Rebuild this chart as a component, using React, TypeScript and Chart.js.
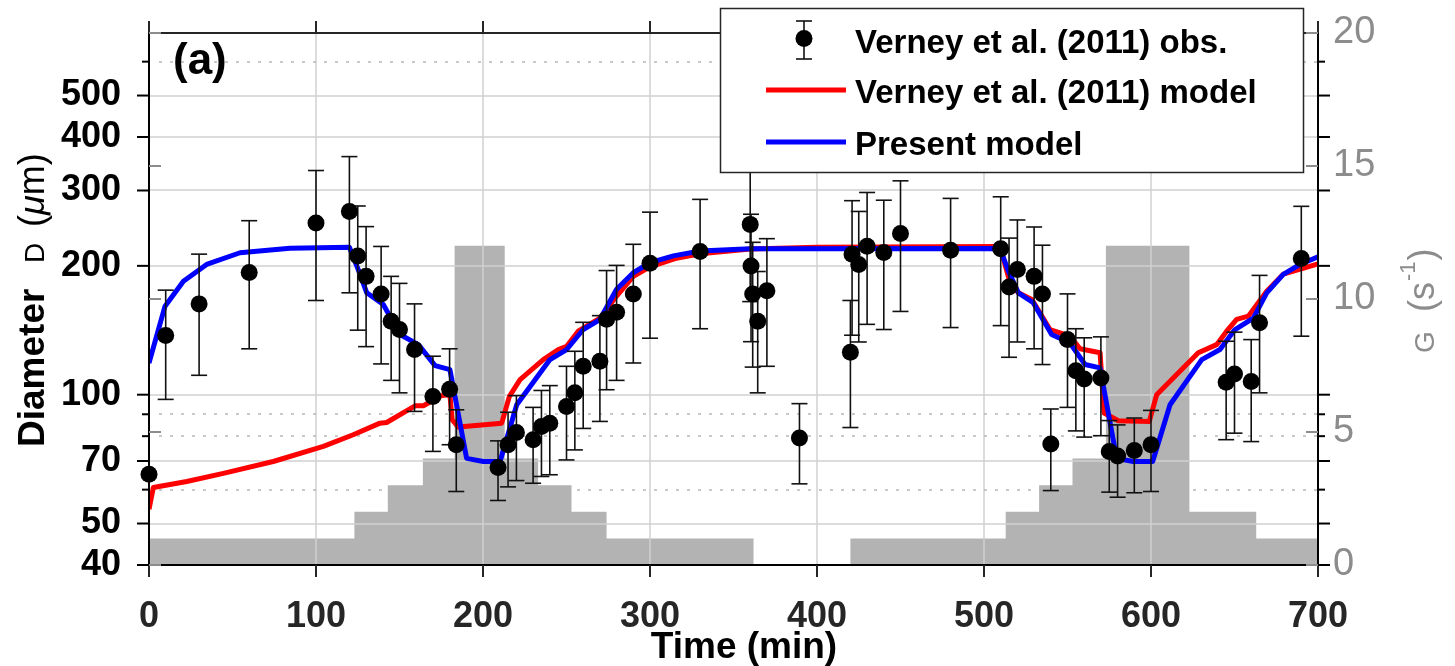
import React, { useEffect, useRef } from 'react';
import { Chart, registerables } from 'chart.js';

Chart.register(...registerables);

const FONT = "'Liberation Sans', Arial, Helvetica, sans-serif";

// ---- Observations (Verney et al. 2011) ----
const obsTime = [0, 10, 30, 60, 100, 120, 125, 130, 139, 145, 150, 159, 170, 180, 184, 209, 215, 220, 230, 235, 240, 250, 255, 260, 270, 274, 280, 290, 300, 330, 360, 360.5, 361.5, 364.5, 370, 389.5, 420, 421, 425, 430, 440, 450, 480, 510, 515, 520, 530, 535, 540, 550, 555, 560, 570, 575, 580, 590, 600, 645, 650, 660, 665, 690];
const obsDiameter = [65.2, 137.5, 163, 193, 252, 268, 211, 189, 172, 148.5, 142, 127.5, 99, 103, 76.4, 67.6, 76.4, 81.6, 78.5, 84.3, 85.8, 93.9, 101, 116.5, 119.7, 150, 155.8, 172, 202.8, 216, 250, 199.8, 172, 148.5, 175, 79.2, 125.6, 212.8, 201.5, 222.3, 214.8, 238, 217.4, 219.2, 178.4, 196, 189, 172, 76.7, 134.5, 113.8, 108.8, 109.4, 73.7, 71.9, 74.1, 76.4, 106.9, 111.8, 107.4, 147.2, 208];
const obsUpper = [null, 175.5, 213, 255, 334, 360, 276, 247, 222, 189, 182, 163, 123, 128, 92.2, 78, 91, 99.5, 93.4, 102.3, 105, 116.5, 126.3, 147.6, 153, 195, 200.5, 224.6, 267, 286, 337, 264, 227, 194, 231.5, 95.3, 166, 284, 268, 296.8, 284.7, 316, 287.5, 290, 232.2, 256, 246.5, 223.5, 92.6, 172, 142.6, 135.8, 136.5, 87, 85, 88.2, 91.9, 133.3, 140, 134.5, 190, 275.5];
const obsLower = [null, 97.5, 111, 128, 166, 173, 141.5, 129.5, 118, 108, 101, 91.4, 73.7, 76.4, 59.4, 56.6, 60.9, 63, 62.1, 64.4, 65, 70.4, 74.3, 83.4, 86.6, 102.7, 108, 118.6, 135.5, 142.6, 165, 133, 116, 101, 116.5, 61.9, 83.8, 137.7, 132.8, 146, 142, 156.5, 143.5, 145, 122.3, 132.8, 128, 117.6, 59.7, 93.4, 82.3, 79.6, 80.2, 59.2, 57.6, 59, 59.4, 78.5, 81.3, 77.7, 101, 137];

// ---- Verney et al. (2011) model ----
const verneyTime = [0, 2.6, 22.6, 44.5, 74.4, 104.4, 122.3, 138.3, 142.3, 159.3, 164.3, 175.2, 180.2, 181.5, 185.2, 211.2, 215.8, 222.2, 236.1, 245.1, 250.1, 257, 270, 280, 290, 300, 315, 330, 360, 400, 509.6, 515.6, 520.6, 528.6, 539.5, 551.5, 557.5, 569.5, 571.9, 580.4, 599, 603.4, 628.3, 639.3, 645.3, 651.3, 658.3, 669.3, 679.2, 700];
const verneyDiameter = [54, 60.7, 62.7, 65.5, 69.8, 75.7, 80.6, 85.8, 86.1, 94.2, 94.2, 99.5, 100, 87.4, 84, 85.8, 99.1, 108.4, 120.8, 127.5, 129.8, 140.7, 151, 170, 189, 199, 208, 213.5, 219, 221, 222, 182.5, 173, 167, 142, 137, 128, 125.3, 90.6, 86.9, 86.6, 100, 125.3, 130.9, 140.7, 150, 152.6, 174.5, 191.3, 202];

// ---- Present model ----
const presentTime = [0, 9.6, 20.6, 34.5, 54.5, 84.4, 120, 125.3, 130.4, 140.3, 150.3, 161.3, 171.3, 180.2, 190.2, 200.2, 210.2, 220.2, 240.1, 250.1, 260, 270, 280, 290, 300, 314, 330, 360, 509.6, 514.6, 520.6, 529.5, 540.5, 551.5, 560.5, 569.5, 579.4, 589.4, 601, 611.4, 630.4, 641.3, 650.3, 661.3, 669.3, 679.2, 689.2, 700];
const presentDiameter = [118.6, 161, 184, 201.5, 214.6, 220, 221, 196, 173, 162.4, 138.2, 130.9, 116.9, 114.4, 71, 69.8, 69.8, 94.7, 120.8, 127.5, 142, 149.8, 176.3, 192.7, 203.4, 211, 216.7, 219.2, 219.6, 194.5, 173, 164, 138.2, 132, 117.6, 115.5, 71, 69.8, 69.8, 94.7, 120.8, 127.5, 142, 151, 173, 191, 201.5, 210];

// ---- Shear rate G (step function, value holds until next time) ----
const shearTime = [0, 123, 143, 164, 183, 213, 233, 253, 274, 362, 420, 513, 533, 553, 573, 623, 663, 700];
const shearG = [1, 2, 3, 4, 12, 4, 3, 2, 1, 0, 1, 2, 3, 4, 12, 2, 1, 1];

// ---- Ticks ----
const timeTicks = [0, 100, 200, 300, 400, 500, 600, 700];
const diameterTicks = [40, 50, 70, 100, 200, 300, 400, 500];
const diameterMinorTicks = [60, 80, 90, 600];
const shearTicks = [0, 5, 10, 15, 20];

const LABEL_OBS = 'Verney et al. (2011) obs.';
const LABEL_VERNEY = 'Verney et al. (2011) model';
const LABEL_PRESENT = 'Present model';

function seg(ctx: CanvasRenderingContext2D, x1: number, y1: number, x2: number, y2: number) {
  ctx.beginPath();
  ctx.moveTo(x1, y1);
  ctx.lineTo(x2, y2);
  ctx.stroke();
}

function zeroPad(s: any) {
  s.paddingTop = 0;
  s.paddingBottom = 0;
  s.paddingLeft = 0;
  s.paddingRight = 0;
}

function drawGrid(chart: any) {
  const { ctx, chartArea, scales } = chart;
  const { left, right, top, bottom } = chartArea;
  ctx.save();
  ctx.beginPath();
  ctx.rect(left, top, right - left, bottom - top);
  ctx.clip();
  ctx.strokeStyle = 'rgba(208,208,208,0.75)';
  ctx.lineWidth = 2;
  for (const t of timeTicks) {
    if (t === 0 || t === 700) continue;
    const px = Math.round(scales.x.getPixelForValue(t));
    seg(ctx, px, top, px, bottom);
  }
  for (const v of diameterTicks) {
    if (v === 40) continue;
    const py = Math.round(scales.y.getPixelForValue(v));
    seg(ctx, left, py, right, py);
  }
  ctx.setLineDash([3, 8]);
  ctx.strokeStyle = 'rgba(175,175,175,0.9)';
  ctx.lineWidth = 1.5;
  for (const v of diameterMinorTicks) {
    const py = Math.round(scales.y.getPixelForValue(v));
    seg(ctx, left + 10, py, right, py);
  }
  ctx.restore();
}

function drawErrorBars(chart: any) {
  const { ctx, scales } = chart;
  ctx.save();
  ctx.strokeStyle = '#111';
  ctx.lineWidth = 1.6;
  for (let i = 0; i < obsTime.length; i++) {
    const up = obsUpper[i];
    const lo = obsLower[i];
    if (up == null || lo == null) continue;
    const px = scales.x.getPixelForValue(obsTime[i]);
    const pu = scales.y.getPixelForValue(up);
    const pl = scales.y.getPixelForValue(lo);
    seg(ctx, px, pu, px, pl);
    seg(ctx, px - 8, pu, px + 8, pu);
    seg(ctx, px - 8, pl, px + 8, pl);
  }
  ctx.restore();
}

function drawFrame(chart: any) {
  const { ctx, chartArea, scales } = chart;
  const { left, right, top, bottom } = chartArea;
  ctx.save();
  ctx.lineWidth = 2;
  ctx.strokeStyle = '#262626';
  seg(ctx, left, top, right, top);
  ctx.strokeStyle = '#000';
  seg(ctx, left, top - 1, left, bottom + 1);
  seg(ctx, left - 1, bottom, right + 1, bottom);
  seg(ctx, right, top - 1, right, bottom + 1);
  ctx.strokeStyle = '#262626';
  for (const t of timeTicks) {
    const px = scales.x.getPixelForValue(t);
    seg(ctx, px, bottom, px, bottom + 12);
    seg(ctx, px, top, px, top - 12);
  }
  ctx.strokeStyle = '#000';
  for (const v of diameterTicks) {
    const py = scales.y.getPixelForValue(v);
    seg(ctx, left - 12, py, left, py);
    seg(ctx, right, py, right + 12, py);
  }
  for (const v of diameterMinorTicks) {
    const py = scales.y.getPixelForValue(v);
    seg(ctx, left - 7, py, left, py);
    seg(ctx, right, py, right + 7, py);
  }
  ctx.strokeStyle = '#8c8c8c';
  for (const g of shearTicks) {
    const py = scales.y2.getPixelForValue(g);
    seg(ctx, left, py, left + 12, py);
    seg(ctx, right - 12, py, right, py);
  }
  ctx.restore();
}

function drawTitles(chart: any) {
  const ctx: CanvasRenderingContext2D = chart.ctx;
  // Left title: "Diameter D (μm)"
  ctx.save();
  ctx.translate(44, 447);
  ctx.rotate(-Math.PI / 2);
  ctx.textAlign = 'left';
  ctx.textBaseline = 'alphabetic';
  ctx.fillStyle = '#000';
  ctx.font = `bold 37px ${FONT}`;
  ctx.fillText('Diameter', 0, 0);
  ctx.font = `28px ${FONT}`;
  ctx.fillText('D', 184, 0);
  let off = 220;
  ctx.font = `36px ${FONT}`;
  ctx.fillText('(', off, 0);
  off += ctx.measureText('(').width;
  ctx.font = `italic 36px ${FONT}`;
  ctx.fillText('μ', off, 0);
  off += ctx.measureText('μ').width;
  ctx.font = `36px ${FONT}`;
  ctx.fillText('m)', off, 0);
  ctx.restore();

  // Right title: "G (s^-1)"
  ctx.save();
  ctx.translate(1434, 353);
  ctx.rotate(-Math.PI / 2);
  ctx.textAlign = 'left';
  ctx.textBaseline = 'alphabetic';
  ctx.fillStyle = '#8c8c8c';
  ctx.font = `28px ${FONT}`;
  ctx.fillText('G', 0, 0);
  off = 41;
  ctx.font = `36px ${FONT}`;
  ctx.fillText('(s', off, 0);
  off += ctx.measureText('(s').width + 1;
  ctx.font = `22px ${FONT}`;
  ctx.fillText('-1', off, -19);
  off += ctx.measureText('-1').width + 1;
  ctx.font = `36px ${FONT}`;
  ctx.fillText(')', off, 0);
  ctx.restore();

  // X title
  ctx.save();
  ctx.fillStyle = '#000';
  ctx.font = `bold 37px ${FONT}`;
  ctx.textAlign = 'center';
  ctx.textBaseline = 'alphabetic';
  ctx.fillText('Time (min)', 744, 658);
  ctx.restore();

  // Panel label
  ctx.save();
  ctx.fillStyle = '#000';
  ctx.font = `bold 44px ${FONT}`;
  ctx.textAlign = 'left';
  ctx.textBaseline = 'alphabetic';
  ctx.fillText('(a)', 173, 74);
  ctx.restore();
}

function drawLegend(chart: any) {
  const ctx: CanvasRenderingContext2D = chart.ctx;
  ctx.save();
  ctx.fillStyle = '#fff';
  ctx.fillRect(720, 8, 583, 164);
  ctx.strokeStyle = '#262626';
  ctx.lineWidth = 1.5;
  ctx.strokeRect(720.5, 8.5, 583, 164);
  // obs entry
  ctx.strokeStyle = '#111';
  ctx.lineWidth = 1.6;
  seg(ctx, 804, 21, 804, 59);
  seg(ctx, 796, 21, 812, 21);
  seg(ctx, 796, 59, 812, 59);
  ctx.fillStyle = '#000';
  ctx.beginPath();
  ctx.arc(804, 38.5, 8.5, 0, Math.PI * 2);
  ctx.fill();
  // lines
  ctx.lineWidth = 5;
  ctx.strokeStyle = '#ff0000';
  seg(ctx, 766, 90, 846, 90);
  ctx.strokeStyle = '#0000ff';
  seg(ctx, 766, 142, 846, 142);
  // text
  ctx.fillStyle = '#000';
  ctx.font = `bold 33px ${FONT}`;
  ctx.textBaseline = 'alphabetic';
  ctx.textAlign = 'left';
  ctx.fillText(LABEL_OBS, 855, 53);
  ctx.fillText(LABEL_VERNEY, 855, 103);
  ctx.fillText(LABEL_PRESENT, 855, 155);
  ctx.restore();
}

const overlayPlugin = {
  id: 'overlayPlugin',
  afterDatasetDraw(chart: any, args: any) {
    const ds = chart.data.datasets[args.index];
    if (ds.label === 'G') drawGrid(chart);
    if (ds.label === LABEL_PRESENT) drawErrorBars(chart);
  },
  afterDraw(chart: any) {
    drawFrame(chart);
    drawTitles(chart);
    drawLegend(chart);
  },
};

export default function App() {
  const canvasRef = useRef<HTMLCanvasElement | null>(null);

  useEffect(() => {
    const canvas = canvasRef.current;
    if (!canvas) return;
    const chart = new Chart(canvas, {
      type: 'line',
      data: {
        datasets: [
          {
            label: LABEL_OBS,
            data: obsTime.map((t, i) => ({ x: t, y: obsDiameter[i] })),
            showLine: false,
            pointRadius: 8.5,
            pointBackgroundColor: '#000',
            pointBorderWidth: 0,
            pointBorderColor: '#000',
            yAxisID: 'y',
            order: 0,
            clip: false as any,
          },
          {
            label: LABEL_PRESENT,
            data: presentTime.map((t, i) => ({ x: t, y: presentDiameter[i] })),
            borderColor: '#0000ff',
            borderWidth: 5,
            pointRadius: 0,
            tension: 0,
            borderJoinStyle: 'round',
            yAxisID: 'y',
            order: 1,
          },
          {
            label: LABEL_VERNEY,
            data: verneyTime.map((t, i) => ({ x: t, y: verneyDiameter[i] })),
            borderColor: '#ff0000',
            borderWidth: 5,
            pointRadius: 0,
            tension: 0,
            borderJoinStyle: 'round',
            yAxisID: 'y',
            order: 2,
          },
          {
            label: 'G',
            data: shearTime.map((t, i) => ({ x: t, y: shearG[i] })),
            stepped: true,
            fill: 'origin',
            backgroundColor: '#b3b3b3',
            borderColor: 'rgba(0,0,0,0)',
            borderWidth: 0,
            pointRadius: 0,
            yAxisID: 'y2',
            order: 3,
          },
        ],
      },
      options: {
        animation: false,
        responsive: false,
        maintainAspectRatio: false,
        devicePixelRatio: 1,
        layout: { padding: { top: 33, left: 0, right: 0, bottom: 0 } },
        plugins: {
          legend: { display: false },
          tooltip: { enabled: false },
        },
        scales: {
          x: {
            type: 'linear',
            position: 'bottom',
            min: 0,
            max: 700,
            afterBuildTicks: (s: any) => {
              s.ticks = timeTicks.map((v) => ({ value: v }));
            },
            afterFit: (s: any) => {
              s.height = 101;
              zeroPad(s);
            },
            grid: { display: false, drawTicks: false },
            border: { display: false },
            ticks: {
              autoSkip: false,
              maxRotation: 0,
              padding: 30,
              color: '#262626',
              font: { family: FONT, size: 36, weight: 'bold' },
              callback: (v: any) => String(v),
            },
            title: { display: false },
          },
          y: {
            type: 'logarithmic',
            position: 'left',
            min: 40,
            max: 700,
            afterBuildTicks: (s: any) => {
              s.ticks = diameterTicks.map((v) => ({ value: v }));
            },
            afterFit: (s: any) => {
              s.width = 149;
              zeroPad(s);
            },
            grid: { display: false, drawTicks: false },
            border: { display: false },
            ticks: {
              autoSkip: false,
              padding: 28,
              color: '#000',
              font: { family: FONT, size: 36, weight: 'bold' },
              callback: (v: any) => String(v),
            },
          },
          y2: {
            type: 'linear',
            position: 'right',
            min: 0,
            max: 20,
            afterBuildTicks: (s: any) => {
              s.ticks = shearTicks.map((v) => ({ value: v }));
            },
            afterFit: (s: any) => {
              s.width = 137;
              zeroPad(s);
            },
            grid: { display: false, drawTicks: false },
            border: { display: false },
            ticks: {
              autoSkip: false,
              padding: 15,
              color: '#8c8c8c',
              font: { family: FONT, size: 38 },
              callback: (v: any) => String(v),
            },
          },
        },
      } as any,
      plugins: [overlayPlugin],
    });
    return () => chart.destroy();
  }, []);

  return (
    <div style={{ position: 'absolute', left: 0, top: 0, width: 1455, height: 666, background: '#fff' }}>
      <canvas ref={canvasRef} width={1455} height={666} style={{ width: 1455, height: 666, display: 'block' }} />
    </div>
  );
}
